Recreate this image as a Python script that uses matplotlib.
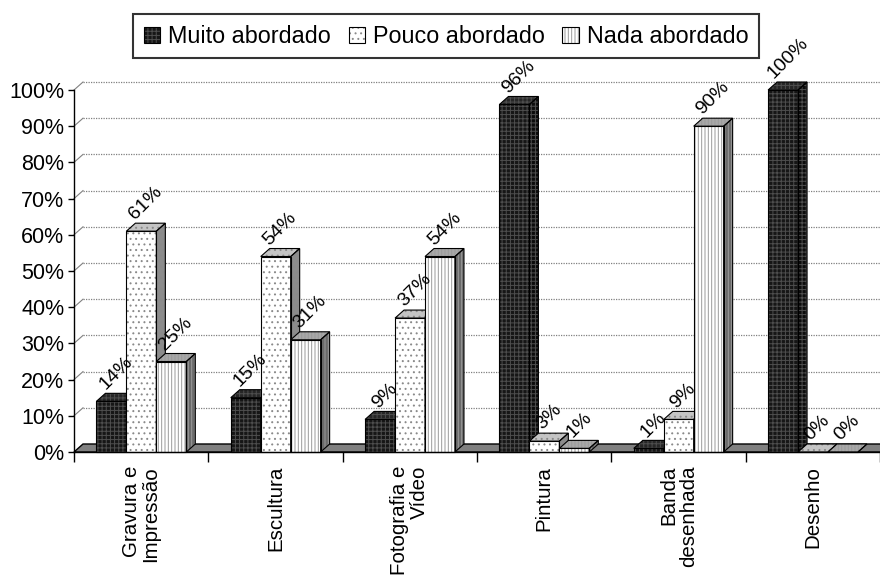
import matplotlib
matplotlib.use("Agg")
import matplotlib.pyplot as plt
from matplotlib.patches import Polygon, Patch

plt.rcParams['font.family'] = ['Liberation Sans', 'DejaVu Sans']
plt.rcParams['hatch.linewidth'] = 0.7

# Dados
categorias = ["Gravura e\nImpressão", "Escultura", "Fotografia e\nVídeo",
              "Pintura", "Banda\ndesenhada", "Desenho"]
series = ["Muito abordado", "Pouco abordado", "Nada abordado"]
muito = [14, 15, 9, 96, 1, 100]
pouco = [61, 54, 37, 3, 9, 0]
nada = [25, 31, 54, 1, 90, 0]
valores = [muito, pouco, nada]

# estilos (frente, lado, topo, cor do padrão, padrão)
estilos = [
    dict(front="#161616", side="#0c0c0c", top="#262626", hc="#4e4e4e", hatch="++++"),
    dict(front="#ffffff", side="#8c8c8c", top="#c4c4c4", hc="#8a8a8a", hatch="..."),
    dict(front="#ffffff", side="#6a6a6a", top="#a8a8a8", hc="#9a9a9a", hatch="|||||"),
]

fig = plt.figure(figsize=(8.8, 5.77), dpi=100)
ax = fig.add_axes([74 / 880, 125 / 577, 806 / 880, 362 / 577])
ax.set_xlim(0, 6)
ax.set_ylim(0, 100)

dx = 9 / 134.33      # profundidade em x (unidades de dados)
dy = 8 / 3.62        # profundidade em y (%)
largura = 0.223
inicio = 0.167

# chão
chao = Polygon([(0, 0), (6.2, 0), (6.2 + dx, dy), (dx, dy)], closed=True,
               facecolor="#808080", edgecolor="black", lw=1.0, zorder=1,
               clip_on=False)
ax.add_patch(chao)

# grelha
for v in range(10, 101, 10):
    ax.plot([0, dx], [v, v + dy], color="#808080", lw=0.8, zorder=0.5,
            clip_on=False)
    ax.plot([dx, 6.2], [v + dy, v + dy], color="#808080", lw=0.9,
            ls=(0, (1, 1)), zorder=0.5, clip_on=False)

# barras 3D
z = 2
for i in range(len(categorias)):
    for j, vals in enumerate(valores):
        v = vals[i]
        st = estilos[j]
        x0 = i + inicio + j * largura
        x1 = x0 + largura
        frente = Polygon([(x0, 0), (x1, 0), (x1, v), (x0, v)], closed=True,
                         facecolor=st["front"], edgecolor=st["hc"], lw=0,
                         hatch=st["hatch"], zorder=z, clip_on=False)
        lado = Polygon([(x1, 0), (x1 + dx, dy), (x1 + dx, v + dy), (x1, v)],
                       closed=True, facecolor=st["side"], edgecolor=st["hc"],
                       lw=0, hatch=st["hatch"], zorder=z, clip_on=False)
        topo = Polygon([(x0, v), (x1, v), (x1 + dx, v + dy), (x0 + dx, v + dy)],
                       closed=True, facecolor=st["top"], edgecolor=st["hc"],
                       lw=0, hatch=st["hatch"], zorder=z, clip_on=False)
        for p in (frente, lado, topo):
            ax.add_patch(p)
            contorno = Polygon(p.get_xy(), closed=True, fill=False,
                               edgecolor="black", lw=0.8, zorder=z + 0.1,
                               clip_on=False)
            ax.add_patch(contorno)
        z += 1
        ax.text(x0 + largura / 2 + dx / 2, v + dy, f"{v}%",
                rotation=45, ha="center", va="bottom", fontsize=14,
                zorder=100)

# eixos
for s in ("top", "right"):
    ax.spines[s].set_visible(False)
ax.spines["left"].set_linewidth(1.0)
ax.spines["bottom"].set_linewidth(1.0)
ax.spines["bottom"].set_zorder(200)

ax.set_yticks(range(0, 101, 10))
ax.set_yticklabels([f"{v}%" for v in range(0, 101, 10)], fontsize=15.5)
ax.tick_params(axis="y", direction="out", length=4, width=1, pad=3)

ax.set_xticks([i + 0.5 for i in range(6)])
ax.set_xticklabels(categorias, rotation=90, fontsize=14.8, ha="center",
                   va="top", multialignment="right", linespacing=1.05)
ax.set_xticks(range(0, 7), minor=True)
ax.tick_params(axis="x", which="major", length=0, pad=10)
ax.tick_params(axis="x", which="minor", direction="out", length=7, width=1)

# legenda: padrão + contorno preto sobrepostos
handles = []
for st in estilos:
    fundo = Patch(facecolor=st["front"], edgecolor=st["hc"], hatch=st["hatch"],
                  lw=0)
    borda = Patch(facecolor="none", edgecolor="black", lw=0.8)
    handles.append((fundo, borda))
leg = fig.legend(handles, series, loc="center", ncol=3,
                 bbox_to_anchor=(0.507, 0.937), fontsize=16.8,
                 handlelength=0.7, handleheight=0.7, handletextpad=0.35,
                 columnspacing=0.75, borderpad=0.45, borderaxespad=0,
                 fancybox=False, frameon=True, edgecolor="black")
leg.get_frame().set_linewidth(1.5)

fig.savefig("out.png", dpi=100)
